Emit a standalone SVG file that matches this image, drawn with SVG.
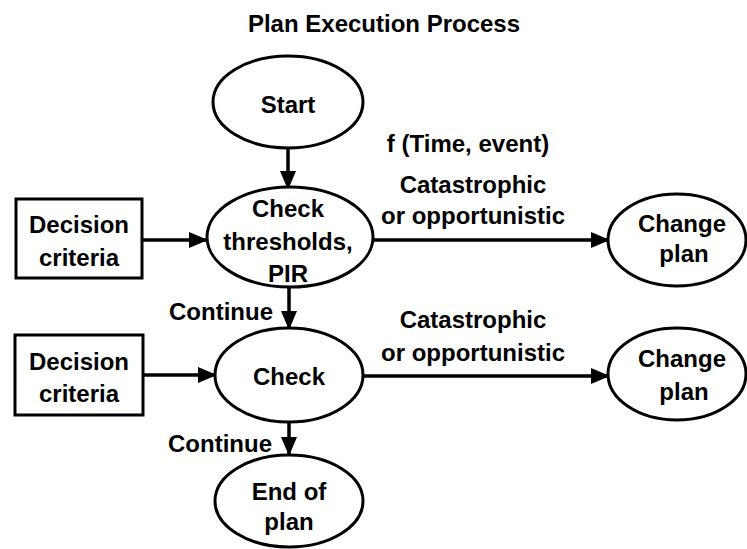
<svg xmlns="http://www.w3.org/2000/svg" width="747" height="549" viewBox="0 0 747 549">
  <style>
    .shape { fill: #ffffff; stroke: #000000; stroke-width: 3; }
    .edge { fill: none; stroke: #000000; stroke-width: 3.5; marker-end: url(#head); }
    text { font-family: "Liberation Sans", Arial, Helvetica, sans-serif; font-weight: bold; font-size: 24px; fill: #000000; text-anchor: middle; }
    .end { text-anchor: end; }
  </style>
  <defs>
    <marker id="head" markerUnits="userSpaceOnUse" markerWidth="19" markerHeight="16" refX="18" refY="8" orient="auto">
      <path d="M0,0 L19,8 L0,16 Z" fill="#000000"/>
    </marker>
  </defs>
  <rect width="747" height="549" fill="#ffffff"/>

  <text id="title" x="384" y="32">Plan Execution Process</text>

  <!-- connectors -->
  <g id="connectors">
    <line class="edge" x1="288" y1="148" x2="288" y2="189"/>
    <line class="edge" x1="142" y1="240" x2="207" y2="240"/>
    <line class="edge" x1="373" y1="240" x2="609" y2="240"/>
    <line class="edge" x1="289" y1="287" x2="289" y2="329"/>
    <line class="edge" x1="143" y1="375" x2="216" y2="375"/>
    <line class="edge" x1="363" y1="376" x2="609" y2="376"/>
    <line class="edge" x1="289" y1="422" x2="289" y2="455"/>
  </g>

  <!-- connector labels -->
  <g id="labels">
    <text x="468" y="152">f (Time, event)</text>
    <text x="473" y="193">Catastrophic</text>
    <text x="473" y="224">or opportunistic</text>
    <text x="473" y="328">Catastrophic</text>
    <text x="473" y="361">or opportunistic</text>
    <text class="end" x="273" y="320">Continue</text>
    <text class="end" x="272" y="452">Continue</text>
  </g>

  <g id="start">
    <ellipse class="shape" cx="288" cy="102" rx="75" ry="46"/>
    <text x="288" y="113">Start</text>
  </g>

  <g id="criteria1">
    <rect class="shape" x="16" y="199" width="126" height="79"/>
    <text x="79" y="233">Decision</text>
    <text x="79" y="266">criteria</text>
  </g>

  <g id="check1">
    <ellipse class="shape" cx="290" cy="237" rx="83" ry="50"/>
    <text x="288" y="217">Check</text>
    <text x="288" y="250">thresholds,</text>
    <text x="288" y="282">PIR</text>
  </g>

  <g id="change1">
    <ellipse class="shape" cx="677" cy="240" rx="69" ry="46"/>
    <text x="682" y="232">Change</text>
    <text x="684" y="262">plan</text>
  </g>

  <g id="criteria2">
    <rect class="shape" x="15" y="335" width="128" height="80"/>
    <text x="79" y="370">Decision</text>
    <text x="79" y="402">criteria</text>
  </g>

  <g id="check2">
    <ellipse class="shape" cx="289" cy="375" rx="74" ry="47"/>
    <text x="289" y="385">Check</text>
  </g>

  <g id="change2">
    <ellipse class="shape" cx="677" cy="374" rx="69" ry="46"/>
    <text x="682" y="367">Change</text>
    <text x="684" y="400">plan</text>
  </g>

  <g id="endplan">
    <ellipse class="shape" cx="289" cy="501" rx="74" ry="46"/>
    <text x="289" y="500">End of</text>
    <text x="289" y="530">plan</text>
  </g>
</svg>
